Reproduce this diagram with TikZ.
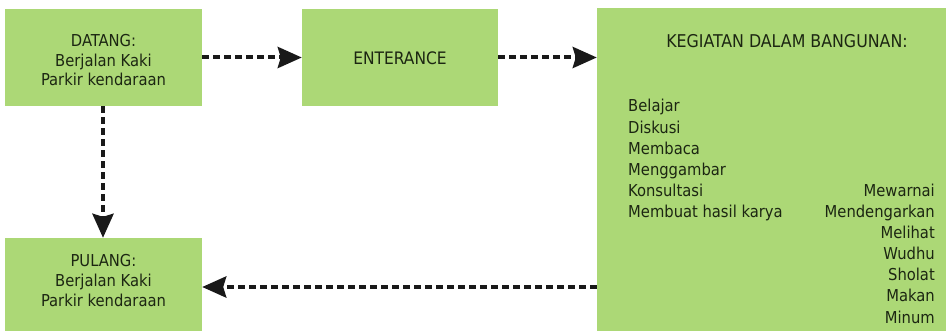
\documentclass[tikz,border=0pt]{standalone}
\usepackage{fontspec}
\setmainfont{DejaVu Sans Condensed}
\usetikzlibrary{arrows.meta}
\definecolor{boxgreen}{RGB}{172,216,118}
\definecolor{txtdark}{RGB}{28,38,18}
\tikzset{
  greenbox/.style={draw=none, fill=boxgreen, inner sep=0pt},
  boxtxt/.style={inner sep=0pt, text=txtdark, align=center,
    font=\fontsize{16.4}{19.6}\selectfont},
  flow/.style={line width=4pt, dash pattern=on 7pt off 4pt, draw=black!90,
    -{Stealth[length=24pt,width=21pt,inset=3pt]}},
  listtxt/.style={inner sep=0pt, text=txtdark, font=\fontsize{16.4}{20}\selectfont}
}
\begin{document}
\begin{tikzpicture}[x=1pt,y=-1pt]
\useasboundingbox (0,0) rectangle (947,331);
\fill[white] (0,0) rectangle (947,331);
\node[greenbox, minimum width=197pt, minimum height=97pt] (datang) at (103.5,57.5) {};
\node[boxtxt, anchor=base] (datangtxt) at (103.5,86)
  {DATANG:\\Berjalan Kaki\\Parkir kendaraan};
\node[greenbox, minimum width=196pt, minimum height=97pt] (enter) at (400,57.5) {};
\node[boxtxt, anchor=base, font=\fontsize{17.2}{20}\selectfont] (entertxt) at (400,65) {ENTERANCE};
\node[greenbox, minimum width=349pt, minimum height=323pt] (keg) at (771.5,169.5) {};
\node[greenbox, minimum width=197pt, minimum height=93pt] (pulang) at (103.5,284.5) {};
\node[boxtxt, anchor=base] (pulangtxt) at (103.5,306)
  {PULANG:\\Berjalan Kaki\\Parkir kendaraan};
\node[listtxt, anchor=base, font=\fontsize{17.6}{20}\selectfont] (kegtitle) at (787,48) {KEGIATAN DALAM BANGUNAN:};
\foreach \t [count=\i from 0] in {Belajar,Diskusi,Membaca,Menggambar,Konsultasi,Membuat hasil karya}
  \node[listtxt, anchor=base west] (l\i) at (628,112+21.1*\i) {\t};
\foreach \t [count=\i from 4] in {Mewarnai,Mendengarkan,Melihat,Wudhu,Sholat,Makan,Minum}
  \node[listtxt, anchor=base east] (r\i) at (935,112+21.1*\i) {\t};
\draw[flow] (datang.east) -- (enter.west);
\draw[flow] (enter.east) -- (enter.east -| keg.west);
\draw[flow] (datang.south -| 103,0) -- (pulang.north -| 103,0);
\draw[flow] (keg.west |- 0,287) -- (pulang.east |- 0,287);
\end{tikzpicture}
\end{document}
